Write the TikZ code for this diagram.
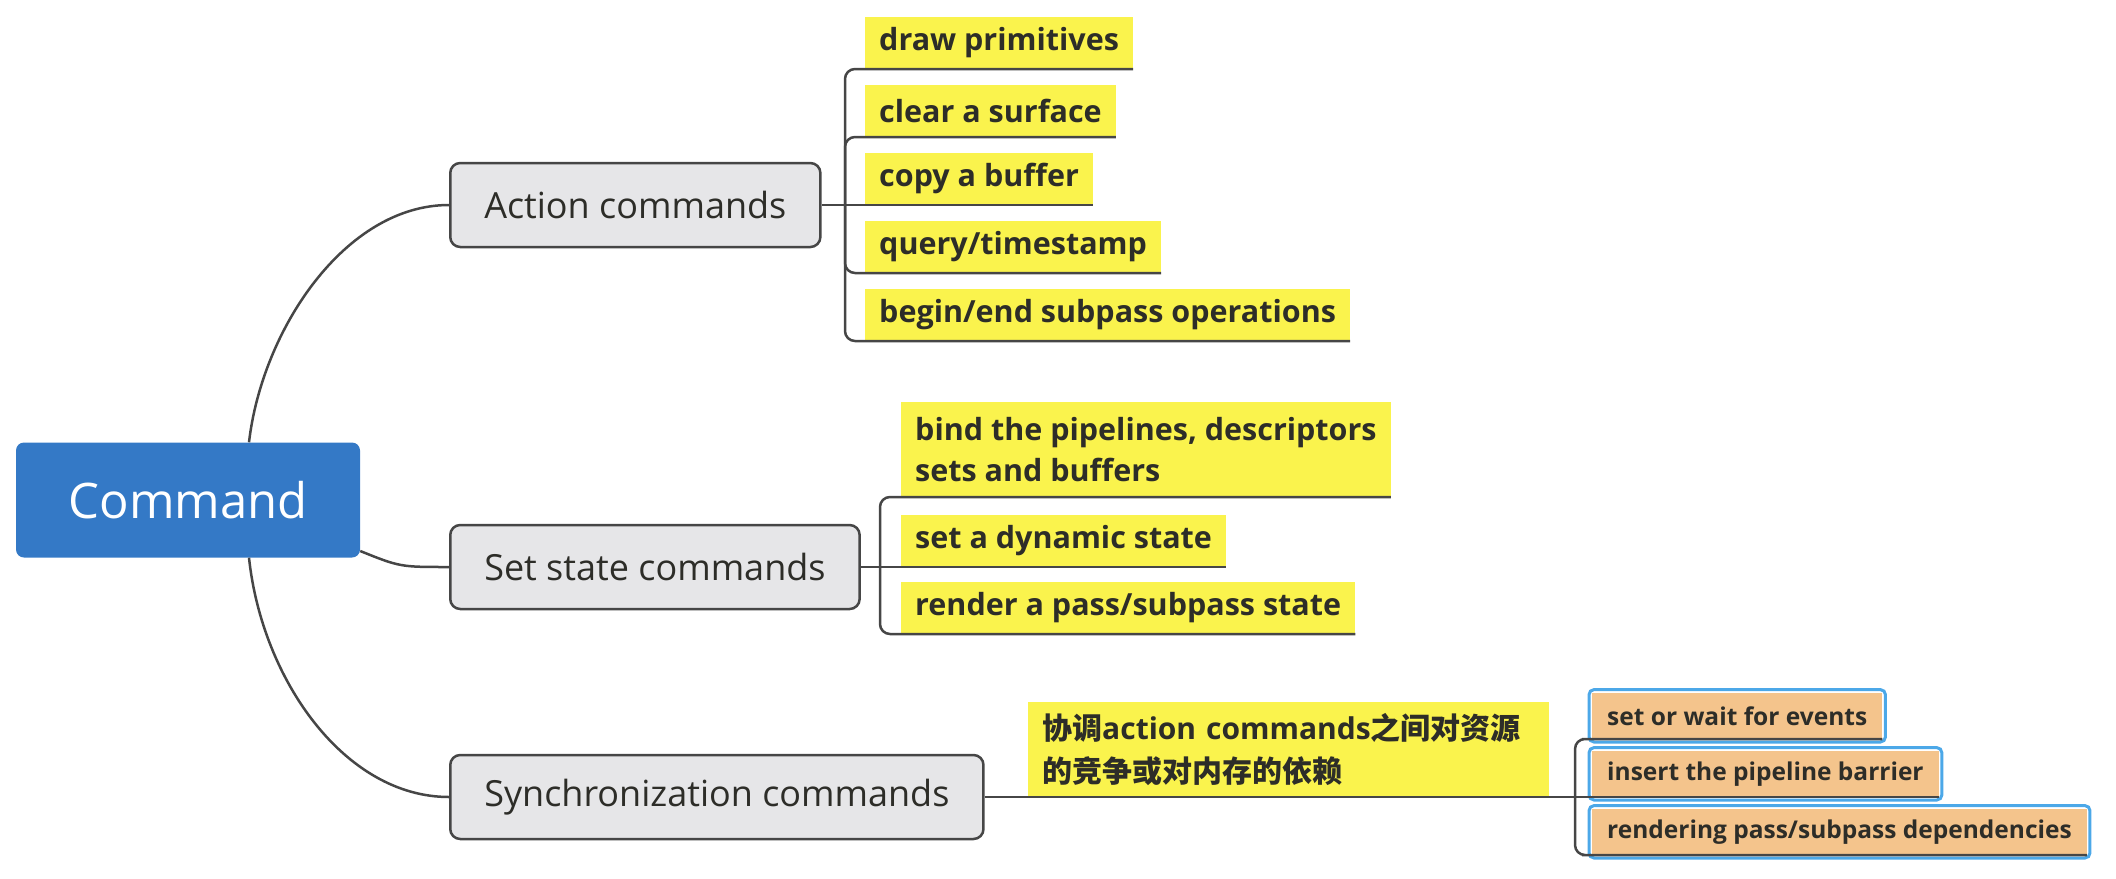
\documentclass[tikz,border=0pt]{standalone}
\usepackage{fontspec}
\setmainfont{Open Sans}
\newfontfamily\cjk{Noto Sans CJK SC}
\definecolor{rootblue}{RGB}{52,121,198}
\definecolor{branchgray}{RGB}{230,230,232}
\definecolor{linegray}{RGB}{70,70,70}
\definecolor{leafyellow}{RGB}{250,243,77}
\definecolor{leaforange}{RGB}{244,196,140}
\definecolor{selblue}{RGB}{76,168,232}
\definecolor{textdark}{RGB}{45,45,40}
\begin{document}
\begin{tikzpicture}[x=1pt, y=-1pt,
  rootbox/.style={fill=rootblue, rounded corners=8pt, text=white,
    font=\fontsize{49}{56}\selectfont, minimum width=344pt, minimum height=115pt},
  branch/.style={draw=linegray, fill=branchgray, line width=2.5pt, rounded corners=10pt,
    text=textdark, font=\fontsize{36}{42}\selectfont, inner xsep=34pt,
    minimum height=84pt, anchor=west},
  leaf/.style={fill=leafyellow, text=textdark, font=\bfseries\fontsize{30.5}{41}\selectfont,
    inner xsep=14pt, minimum height=52pt, anchor=south west, align=left},
  subleaf/.style={fill=leaforange, text=textdark, font=\bfseries\fontsize{24.5}{30}\selectfont,
    inner xsep=15pt, minimum height=46pt, anchor=south west},
  conn/.style={draw=linegray, line width=2.5pt},
  selbox/.style={draw=selblue, line width=3pt, rounded corners=5pt}]
  \useasboundingbox (0,0) rectangle (2116,878);

  \node[rootbox] (cmd) at (188,500) {Command};

  \node[branch] (act) at (449,205) {Action commands};
  \node[branch] (set) at (449,567) {Set state commands};
  \node[branch] (sync) at (449,797) {Synchronization commands};

  \node[leaf] (d1) at (865,69) {draw primitives};
  \node[leaf] (d2) at (865,137) {clear a surface};
  \node[leaf] (d3) at (865,205) {copy a buffer};
  \node[leaf] (d4) at (865,273) {query/timestamp};
  \node[leaf] (d5) at (865,341) {begin/end subpass operations};

  \node[leaf, minimum height=95pt] (s1) at (901,497) {bind the pipelines, descriptors\\sets and buffers};
  \node[leaf] (s2) at (901,567) {set a dynamic state};
  \node[leaf] (s3) at (901,634) {render a pass/subpass state};

  \node[leaf, minimum height=95pt, text width=493pt, font=\bfseries\fontsize{30}{43}\selectfont] (zh) at (1028,797)
    {{\cjk 协调}action commands{\cjk 之间对资源}\\{\cjk 的竞争或对内存的依赖}};

  \node[subleaf] (o1) at (1592,739) {set or wait for events};
  \node[subleaf] (o2) at (1592,797) {insert the pipeline barrier};
  \node[subleaf] (o3) at (1592,855) {rendering pass/subpass dependencies};
  \foreach \n in {o1,o2,o3}
    \draw[selbox] ([xshift=-3pt,yshift=3pt]\n.north west) rectangle ([xshift=3pt,yshift=-3pt]\n.south east);

  \draw[conn] ([xshift=61pt]cmd.north) .. controls (262,330) and (345,205) .. (act.west);
  \draw[conn] ([yshift=-51pt]cmd.east) .. controls (400,567) .. (set.west);
  \draw[conn] ([xshift=61pt]cmd.south) .. controls (262,680) and (345,797) .. (sync.west);

  \coordinate (aj) at (845,205);
  \draw[conn] (act.east) -- (d3.south west) -- (d3.south east);
  \foreach \n in {d1,d2,d4,d5}
    \draw[conn, rounded corners=10pt] (aj) |- (\n.south west) -- (\n.south east);

  \coordinate (sj) at (880,567);
  \draw[conn] (set.east) -- (s2.south west) -- (s2.south east);
  \foreach \n in {s1,s3}
    \draw[conn, rounded corners=10pt] (sj) |- (\n.south west) -- (\n.south east);

  \coordinate (oj) at (1575,797);
  \draw[conn] (sync.east) -- (zh.south west) -- (zh.south east) -- (o2.south west) -- (o2.south east);
  \foreach \n in {o1,o3}
    \draw[conn, rounded corners=10pt] (oj) |- (\n.south west) -- (\n.south east);
\end{tikzpicture}
\end{document}
